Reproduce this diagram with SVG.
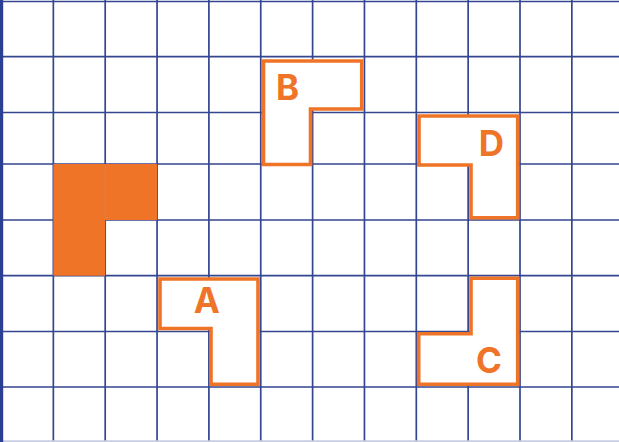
<svg xmlns="http://www.w3.org/2000/svg" width="619" height="442" viewBox="0 0 619 442">
<style>
.g{stroke:#34468f;stroke-width:1.7;fill:none}
.sh{fill:#ffffff;stroke:#f07427;stroke-width:3.6;stroke-linejoin:miter}
.lb{font-family:Inter,"Liberation Sans","Noto Sans",sans-serif;font-weight:bold;font-size:35px;fill:#f07427;text-anchor:middle}
</style>
<rect x="0" y="0" width="619" height="442" fill="#ffffff"/>
<g id="grid" class="g">
<path d="M53.35 0V442M105.2 0V442M157.05 0V442M208.9 0V442M260.75 0V442M312.6 0V442M364.45 0V442M416.3 0V442M468.15 0V442M520 0V442M571.85 0V442"/>
<path d="M0 1.5H619M0 56.7H619M0 112.5H619M0 164H619M0 220H619M0 275.7H619M0 331.5H619M0 387H619"/>
<path d="M0 441.2H619" stroke="#c9cde0"/>
<rect x="0" y="0" width="3.2" height="442" fill="#2b3f93" stroke="none"/>
</g>
<g id="filled">
<polygon points="53.35,164 157.05,164 157.05,220 105.2,220 105.2,275.7 53.35,275.7" fill="#f07427"/>
<line x1="105.2" y1="164" x2="105.2" y2="220" stroke="#c98a6a" stroke-width="0.6"/>
</g>
<g id="B">
<polygon class="sh" points="263.5,61 361.7,61 361.7,109 310.5,109 310.5,164.5 263.5,164.5"/>
<text class="lb" x="287.5" y="100">B</text>
</g>
<g id="D">
<polygon class="sh" points="419,116 517.7,116 517.7,217.7 471,217.7 471,165 419,165"/>
<text class="lb" x="491.5" y="155.7">D</text>
</g>
<g id="A">
<polygon class="sh" points="160,279 258,279 258,384.2 211,384.2 211,328.5 160,328.5"/>
<text class="lb" x="206.7" y="313.3">A</text>
</g>
<g id="C">
<polygon class="sh" points="471,278.3 517.7,278.3 517.7,384.3 418.7,384.3 418.7,333.7 471,333.7"/>
<text class="lb" x="489" y="373">C</text>
</g>
<g id="connectors"></g>
</svg>
